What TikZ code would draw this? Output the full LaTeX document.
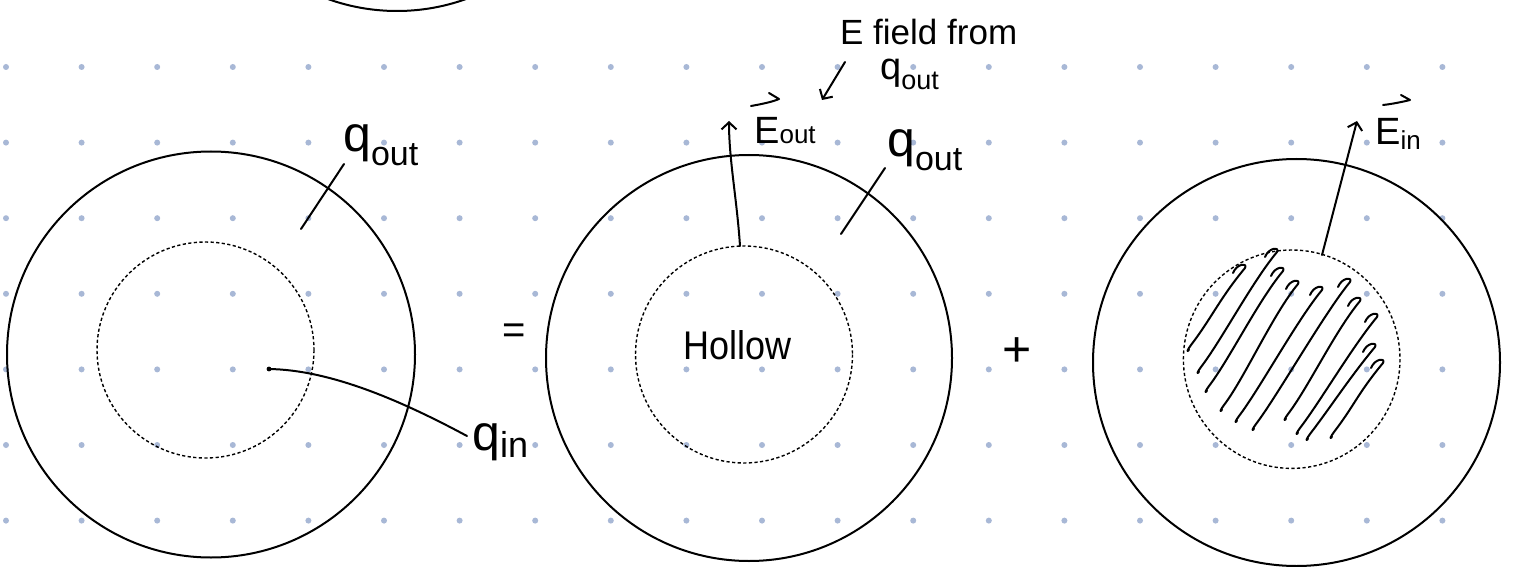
\documentclass[tikz,border=0pt]{standalone}
\usepackage{fontspec}
\setmainfont{Liberation Sans}
\usetikzlibrary{arrows.meta}
\definecolor{dotc}{HTML}{A8B8D6}
\begin{document}
\begin{tikzpicture}[x=1pt,y=-1pt,
  ink/.style={line width=2pt, line cap=round, line join=round},
  core/.style={line width=1.4pt, dash pattern=on 3.2pt off 2.4pt},
  hatch/.style={line width=2pt, line cap=round, line join=round},
  lbl/.style={inner sep=0pt, anchor=base west},
  barb/.style={-{Straight Barb[length=7pt,width=15pt,line width=2pt]}}
]
\useasboundingbox (0,0) rectangle (1513,567);
\clip (0,0) rectangle (1513,567);
\fill[white] (0,0) rectangle (1513,567);
% dot grid
\foreach \i in {0,...,19}{\foreach \j in {0,...,6}{
  \fill[dotc] (6+75.6*\i,67+75.6*\j) circle (3pt);}}
% partial circle at the top
\draw[ink] (397,-193) circle[x radius=204, y radius=204];
% circle 1
\draw[ink] (211,354.5) circle[x radius=204, y radius=203];
\draw[core] (205.5,350) circle[x radius=108.5, y radius=108];
% circle 2
\draw[ink] (749,358) circle[x radius=203, y radius=203];
\draw[core] (744,354.5) circle[x radius=108.5, y radius=108.5];
% circle 3
\draw[ink] (1296.5,362.5) circle[x radius=203.5, y radius=203.5];
\draw[core] (1291.7,359.2) circle[x radius=108.3, y radius=109.2];
% hatching
\foreach \bx/\by/\tx/\ty in {1186/353/1245/268, 1196/375/1277/252, 1204/394/1283/271,
  1219/413/1298/284, 1234/424/1322/290, 1251/432/1350/282, 1283/422/1360/301,
  1295/436/1377/317, 1305/442/1375/347, 1329/440/1383/363}{
  \draw[hatch] (\bx+3,\by-3) .. controls (\bx,\by) and (\bx+2,\by-4) .. (\bx+5,\by-8)
     .. controls (\bx+25,\by-34) and (\tx-25,\ty+30) .. (\tx,\ty)
     .. controls (\tx+3,\ty-5) and (\tx-8,\ty-5) .. (\tx-12,\ty+5);
}
% labels
\node[lbl, font=\fontsize{50}{50}\selectfont] (qout1) at (343,152)
  {q\raisebox{-14pt}{\fontsize{34}{34}\selectfont out}};
\node[lbl, font=\fontsize{50}{50}\selectfont] (qout2) at (887,157)
  {q\raisebox{-14pt}{\fontsize{34}{34}\selectfont out}};
\node[lbl, font=\fontsize{38}{38}\selectfont] (qout3) at (880,80)
  {q\raisebox{-10pt}{\fontsize{27}{27}\selectfont out}};
\node[lbl, font=\fontsize{50}{50}\selectfont] (qin) at (472,450)
  {q\raisebox{-7pt}{\fontsize{36}{36}\selectfont in}};
\node[lbl, font=\fontsize{35}{35}\selectfont] (efield) at (840,45) {E field from};
\node[lbl, font=\fontsize{38}{38}\selectfont] (eout) at (754,143)
  {E\fontsize{26}{26}\selectfont out};
\node[lbl, font=\fontsize{38}{38}\selectfont] (ein) at (1375,145)
  {E\raisebox{-5pt}{\fontsize{26}{26}\selectfont in}};
\node[lbl, font=\fontsize{40}{40}\selectfont, xscale=0.9] (hollow) at (683,359) {Hollow};
\node[inner sep=0pt, font=\fontsize{40}{40}\selectfont] (eq) at (514,334) {=};
\node[inner sep=0pt, font=\fontsize{50}{50}\selectfont] (plus) at (1017,352) {+};
% vector marks over E
\draw[ink] (751,106) .. controls (762,104) and (772,102) .. (779,99) -- (769,93);
\draw[ink] (1383,105) .. controls (1392,104) and (1402,102) .. (1410,100) -- (1401,95);
% connector end points
\coordinate (l1a) at (301,229); \coordinate (l1b) at (344,164);
\coordinate (l2a) at (841,234); \coordinate (l2b) at (885,168);
\coordinate (qdot) at (269,369); \coordinate (qend) at (467,436);
\coordinate (eoS) at (740,246); \coordinate (eoE) at (729,121);
\coordinate (eiS) at (1322,255); \coordinate (eiE) at (1357,121);
\coordinate (faS) at (845,62); \coordinate (faE) at (822,100);
% connectors
\draw[ink] (l1a) -- (l1b);
\draw[ink] (l2a) -- (l2b);
\fill (qdot) circle (2.4pt);
\draw[ink] (qdot) .. controls (330,370) and (400,400) .. (qend);
\draw[ink,barb] (eoS) .. controls (737,200) and (729,160) .. (eoE);
\draw[ink,barb] (eiS) -- (eiE);
\draw[ink,barb] (faS) -- (faE);
\end{tikzpicture}
\end{document}
